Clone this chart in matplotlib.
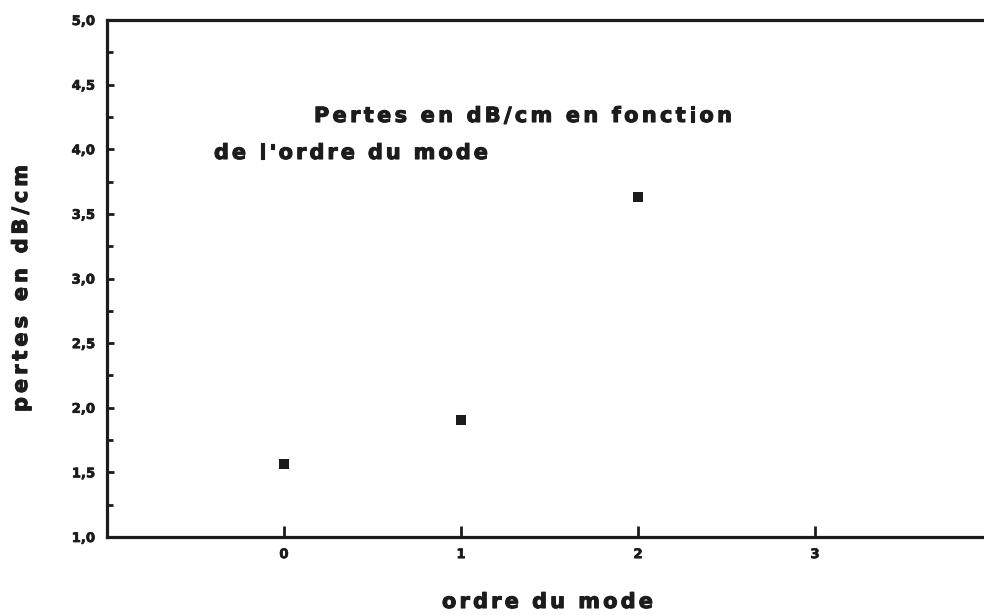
import matplotlib
matplotlib.use("Agg")
import matplotlib.pyplot as plt
import matplotlib.transforms as mtransforms
import matplotlib.patheffects as pe
from matplotlib.ticker import MultipleLocator, FixedLocator, FuncFormatter

# mode order vs. propagation losses
mode_order = [0, 1, 2]
losses_db_cm = [1.565, 1.905, 3.633]

x_ticks = [0, 1, 2, 3]
y_ticks = [1.0, 1.5, 2.0, 2.5, 3.0, 3.5, 4.0, 4.5, 5.0]

title_lines = ["Pertes en dB/cm en fonction", "de l'ordre du mode"]
x_label = "ordre du mode"
y_label = "pertes en dB/cm"

W, H, DPI = 984, 615, 100
INK = "#1c1c1c"
FONT = "DejaVu Sans"
HEAVY = [pe.withStroke(linewidth=0.8, foreground=INK)]

fig = plt.figure(figsize=(W / DPI, H / DPI), dpi=DPI)
fig.patch.set_facecolor("white")

# axes in pixel terms: left 107, right ~992 (x=4), top 20, bottom 537
ax = fig.add_axes([107 / W, (H - 537) / H, (992 - 107) / W, (537 - 20) / H])
ax.set_xlim(-1, 4)
ax.set_ylim(1.0, 5.0)

ax.plot(mode_order, losses_db_cm, linestyle="none", marker="s",
        markersize=7, color=INK, markeredgewidth=0)

for side in ("left", "bottom", "top"):
    ax.spines[side].set_linewidth(2.3)
    ax.spines[side].set_color(INK)
ax.spines["right"].set_visible(False)

ax.xaxis.set_major_locator(FixedLocator(x_ticks))
ax.yaxis.set_major_locator(FixedLocator(y_ticks))
ax.yaxis.set_minor_locator(MultipleLocator(0.25))
ax.yaxis.set_major_formatter(FuncFormatter(lambda v, p: f"{v:.1f}".replace(".", ",")))
ax.xaxis.set_major_formatter(FuncFormatter(lambda v, p: f"{int(v)}"))

ax.tick_params(axis="y", which="major", direction="in", length=5, width=2,
               color=INK, pad=8.5, labelsize=9.5, labelcolor=INK)
ax.tick_params(axis="y", which="minor", direction="in", length=4, width=2, color=INK)
ax.tick_params(axis="x", which="major", direction="in", length=8, width=2,
               color=INK, pad=8, labelsize=9.5, labelcolor=INK)
ax.tick_params(top=False, right=False)
for lab in ax.get_xticklabels() + ax.get_yticklabels():
    lab.set_fontweight("bold")
    lab.set_family(FONT)
    lab.set_path_effects([pe.withStroke(linewidth=0.5, foreground=INK)])

renderer = fig.canvas.get_renderer()
ident = mtransforms.IdentityTransform()


def glyph_width(ch, size):
    if ch == " ":
        return size * DPI / 72 * 0.33
    probe = fig.text(0, 0, ch, fontsize=size, fontweight="bold", family=FONT)
    w = probe.get_window_extent(renderer).width
    probe.remove()
    return w


def tracked_text(start, end, across, s, size, vertical=False):
    """Draw s glyph by glyph so that it runs from start to end (pixels,
    top-left origin); across is the baseline y, or the x centre when vertical."""
    widths = [glyph_width(ch, size) for ch in s]
    gap = (abs(end - start) - sum(widths)) / (len(s) - 1)
    pos = 0.0
    for ch, w in zip(s, widths):
        if not vertical:
            px, py, ha, va, rot = start + pos, H - across, "left", "baseline", 0
        else:
            px, py, ha, va, rot = across, H - (start - pos), "left", "center", 90
        if ch != " ":
            fig.text(px, py, ch, transform=ident, fontsize=size,
                     fontweight="bold", family=FONT, color=INK, rotation=rot,
                     ha=ha, va=va, rotation_mode="anchor",
                     path_effects=HEAVY)
        pos += w + gap


tracked_text(314, 732, 122, title_lines[0], 15)
tracked_text(214, 488, 159, title_lines[1], 15)
tracked_text(442, 653, 608, x_label, 15)
tracked_text(412, 165, 21, y_label, 15, vertical=True)

fig.savefig("out.png", dpi=DPI, facecolor="white")
